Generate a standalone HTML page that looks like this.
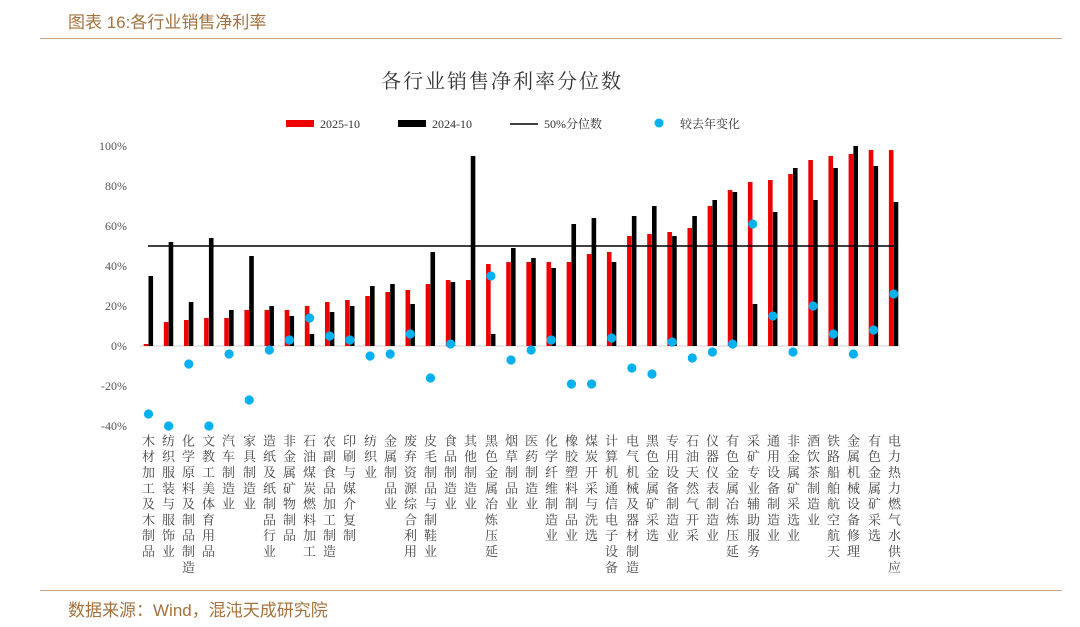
<!DOCTYPE html>
<html><head><meta charset="utf-8"><style>
body{margin:0;width:1080px;height:627px;background:#fff;position:relative;overflow:hidden;font-family:"Liberation Serif","Noto Serif CJK SC",serif}
.hd{position:absolute;left:68px;top:8px;font-size:17px;color:#a5723e;font-family:"Liberation Sans","Noto Sans CJK SC",sans-serif}
.ln{position:absolute;left:40px;width:1022px;height:1px;background:#c9a77f}
.ft{position:absolute;left:68px;top:596px;font-size:17px;color:#a5723e;font-family:"Liberation Sans","Noto Sans CJK SC",sans-serif}
.lab{position:absolute;top:434px;writing-mode:vertical-rl;font-size:13px;letter-spacing:2.8px;color:#444;font-family:"Noto Serif CJK SC",serif;line-height:13px;width:13px}
</style></head><body>
<div class="hd">图表 16:各行业销售净利率</div>
<div class="ln" style="top:38px"></div>
<div class="ln" style="top:590px"></div>
<div class="ft">数据来源：Wind，混沌天成研究院</div>
<svg id="s" width="1080" height="627" style="position:absolute;left:0;top:0" font-family="Liberation Serif, Noto Serif CJK SC, serif">
<text x="502" y="88" text-anchor="middle" font-size="20" fill="#333" font-family="Noto Serif CJK SC, serif" letter-spacing="2">各行业销售净利率分位数</text>
<rect x="286" y="120" width="28" height="7" fill="#e00"/><text x="320" y="128" font-size="12" fill="#333">2025-10</text>
<rect x="398" y="120" width="28" height="7" fill="#000"/><text x="432" y="128" font-size="12" fill="#333">2024-10</text>
<line x1="510" y1="124" x2="538" y2="124" stroke="#000" stroke-width="1.5"/><text x="544" y="128" font-size="12" fill="#333">50%分位数</text>
<circle cx="659" cy="123" r="4.5" fill="#00b0f0"/><text x="680" y="128" font-size="12" fill="#333">较去年变化</text>
<g font-size="12" fill="#555" text-anchor="end">
<text x="127" y="150">100%</text><text x="127" y="190">80%</text><text x="127" y="230">60%</text><text x="127" y="270">40%</text><text x="127" y="310">20%</text><text x="127" y="350">0%</text><text x="127" y="390">-20%</text><text x="127" y="430">-40%</text>
</g>
<line x1="140" y1="346" x2="900" y2="346" stroke="#d0d0d0" stroke-width="1"/>
<g id="g"></g>
<line x1="148" y1="246" x2="897" y2="246" stroke="#000" stroke-width="1.5"/>
<g id="d"></g>
</svg>
<div id="labs"></div>
<script>
var R=[1,12,13,14,14,18,18,18,20,22,23,25,27,28,31,33,33,41,42,42,42,42,46,47,55,56,57,59,70,78,82,83,86,93,95,96,98,98];
var B=[35,52,22,54,18,45,20,15,6,17,20,30,31,21,47,32,95,6,49,44,39,61,64,42,65,70,55,65,73,77,21,67,89,73,89,100,90,72];
var D=[-34,-40,-9,-40,-4,-27,-2,3,14,5,3,-5,-4,6,-16,1,null,35,-7,-2,3,-19,-19,4,-11,-14,2,-6,-3,1,61,15,-3,20,6,-4,8,26];
var g=document.getElementById('g'),d=document.getElementById('d'),h='',k='';
for(var i=0;i<38;i++){var cx=148.5+i*20.14;
h+='<rect x="'+(cx-4.8)+'" y="'+(346-2*R[i])+'" width="4.6" height="'+(2*R[i])+'" fill="#e00"/>';
h+='<rect x="'+(cx)+'" y="'+(346-2*B[i])+'" width="4.6" height="'+(2*B[i])+'" fill="#000"/>';
if(D[i]!==null)k+='<circle cx="'+cx+'" cy="'+(346-2*D[i])+'" r="4.6" fill="#00b0f0"/>';}
g.innerHTML=h;d.innerHTML=k;
</script>
<div class="lab" style="left:142px">木材加工及木制品</div>
<div class="lab" style="left:162px">纺织服装与服饰业</div>
<div class="lab" style="left:182px">化学原料及制品制造</div>
<div class="lab" style="left:202px">文教工美体育用品</div>
<div class="lab" style="left:222px">汽车制造业</div>
<div class="lab" style="left:243px">家具制造业</div>
<div class="lab" style="left:263px">造纸及纸制品行业</div>
<div class="lab" style="left:283px">非金属矿物制品</div>
<div class="lab" style="left:303px">石油煤炭燃料加工</div>
<div class="lab" style="left:323px">农副食品加工制造</div>
<div class="lab" style="left:343px">印刷与媒介复制</div>
<div class="lab" style="left:364px">纺织业</div>
<div class="lab" style="left:384px">金属制品业</div>
<div class="lab" style="left:404px">废弃资源综合利用</div>
<div class="lab" style="left:424px">皮毛制品与制鞋业</div>
<div class="lab" style="left:444px">食品制造业</div>
<div class="lab" style="left:464px">其他制造业</div>
<div class="lab" style="left:485px">黑色金属冶炼压延</div>
<div class="lab" style="left:505px">烟草制品业</div>
<div class="lab" style="left:525px">医药制造业</div>
<div class="lab" style="left:545px">化学纤维制造业</div>
<div class="lab" style="left:565px">橡胶塑料制品业</div>
<div class="lab" style="left:585px">煤炭开采与洗选</div>
<div class="lab" style="left:605px">计算机通信电子设备</div>
<div class="lab" style="left:626px">电气机械及器材制造</div>
<div class="lab" style="left:646px">黑色金属矿采选</div>
<div class="lab" style="left:666px">专用设备制造业</div>
<div class="lab" style="left:686px">石油天然气开采</div>
<div class="lab" style="left:706px">仪器仪表制造业</div>
<div class="lab" style="left:726px">有色金属冶炼压延</div>
<div class="lab" style="left:747px">采矿专业辅助服务</div>
<div class="lab" style="left:767px">通用设备制造业</div>
<div class="lab" style="left:787px">非金属矿采选业</div>
<div class="lab" style="left:807px">酒饮茶制造业</div>
<div class="lab" style="left:827px">铁路船舶航空航天</div>
<div class="lab" style="left:847px">金属机械设备修理</div>
<div class="lab" style="left:868px">有色金属矿采选</div>
<div class="lab" style="left:888px">电力热力燃气水供应</div>
</body></html>
